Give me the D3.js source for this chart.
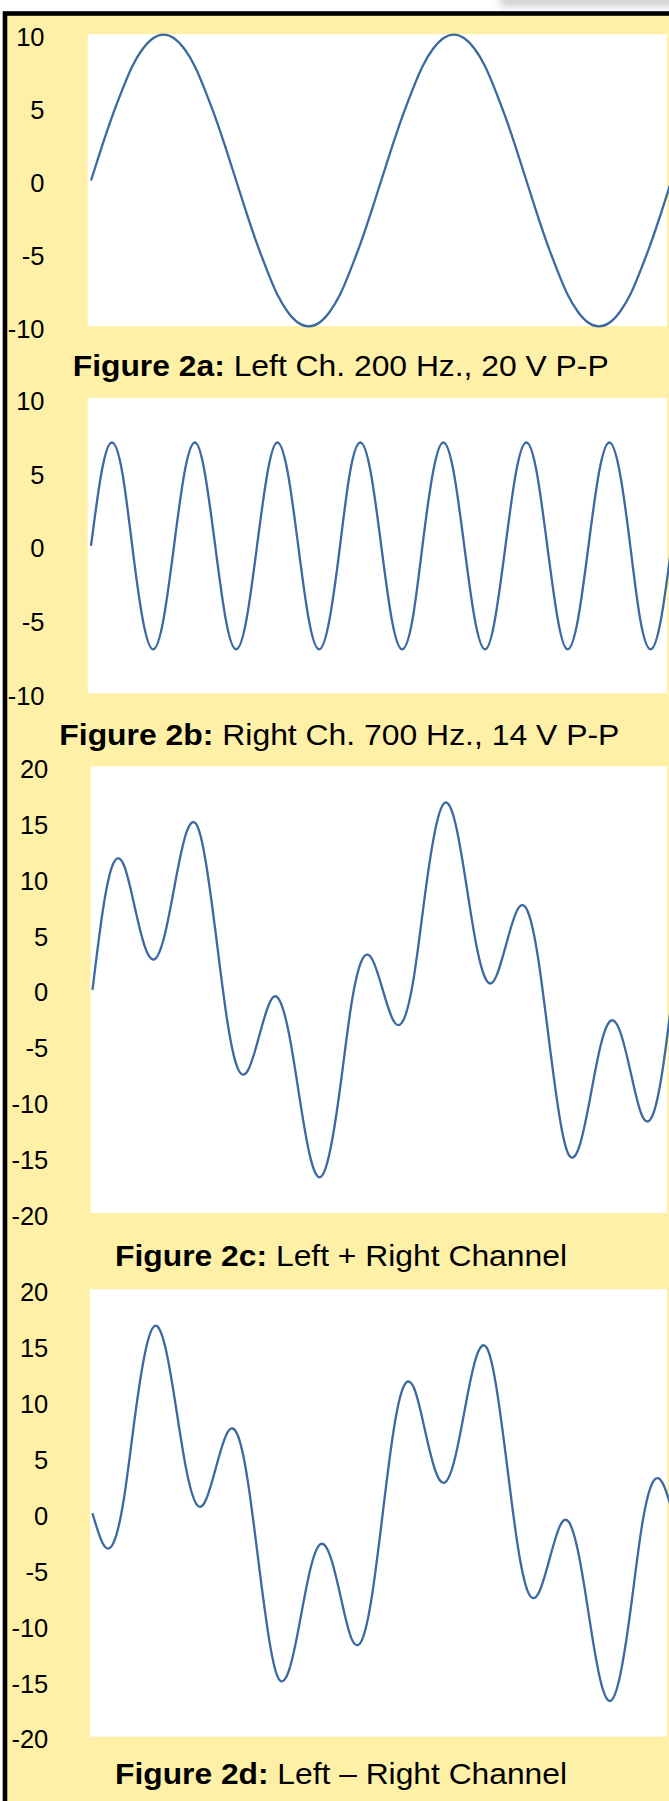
<!DOCTYPE html>
<html>
<head>
<meta charset="utf-8">
<script src="https://cdn.jsdelivr.net/npm/d3@7"></script>
<style>
  html, body { margin: 0; padding: 0; background: #ffffff; }
  svg { display: block; }
  text { font-family: "Liberation Sans", Arial, Helvetica, sans-serif; }
</style>
</head>
<body>
<svg id="chart" width="669" height="1801"></svg>
<script>
// ---- Data ----
const timeMs = [0, 0.18, 0.36, 0.54, 0.71, 0.89, 1.07, 1.25, 1.43, 1.61, 1.79, 1.96, 2.14, 2.32, 2.5,
  2.68, 2.86, 3.04, 3.21, 3.39, 3.57, 3.75, 3.93, 4.11, 4.29, 4.46, 4.64, 4.82, 5,
  5.18, 5.36, 5.54, 5.71, 5.89, 6.07, 6.25, 6.43, 6.61, 6.79, 6.96, 7.14, 7.32, 7.5,
  7.68, 7.86, 8.04, 8.21, 8.39, 8.57, 8.75, 8.93, 9.11, 9.29, 9.46, 9.64, 9.82, 10];

const leftCh = [0, 2.23, 4.34, 6.23, 7.82, 9.01, 9.75, 10, 9.75, 9.01, 7.82, 6.23, 4.34, 2.23, 0,
  -2.23, -4.34, -6.23, -7.82, -9.01, -9.75, -10, -9.75, -9.01, -7.82, -6.23, -4.34, -2.23, 0,
  2.23, 4.34, 6.23, 7.82, 9.01, 9.75, 10, 9.75, 9.01, 7.82, 6.23, 4.34, 2.23, 0,
  -2.23, -4.34, -6.23, -7.82, -9.01, -9.75, -10, -9.75, -9.01, -7.82, -6.23, -4.34, -2.23, 0];

const rightCh = [0, 4.95, 7, 4.95, 0, -4.95, -7, -4.95,
  0, 4.95, 7, 4.95, 0, -4.95, -7, -4.95,
  0, 4.95, 7, 4.95, 0, -4.95, -7, -4.95,
  0, 4.95, 7, 4.95, 0, -4.95, -7, -4.95,
  0, 4.95, 7, 4.95, 0, -4.95, -7, -4.95,
  0, 4.95, 7, 4.95, 0, -4.95, -7, -4.95,
  0, 4.95, 7, 4.95, 0, -4.95, -7, -4.95, 0];

const sumCh = [0, 7.18, 11.34, 11.18, 7.82, 4.06, 2.75, 5.05, 9.75, 13.96, 14.82, 11.18, 4.34, -2.72, -7,
  -7.18, -4.34, -1.28, -0.82, -4.06, -9.75, -14.95, -16.75, -13.96, -7.82, -1.28, 2.66, 2.72, 0,
  -2.72, -2.66, 1.28, 7.82, 13.96, 16.75, 14.95, 9.75, 4.06, 0.82, 1.28, 4.34, 7.18, 7,
  2.72, -4.34, -11.18, -14.82, -13.96, -9.75, -5.05, -2.75, -4.06, -7.82, -11.18, -11.34, -7.18, 0];

const diffCh = [0, -2.72, -2.66, 1.28, 7.82, 13.96, 16.75, 14.95, 9.75, 4.06, 0.82, 1.28, 4.34, 7.18, 7,
  2.72, -4.34, -11.18, -14.82, -13.96, -9.75, -5.05, -2.75, -4.06, -7.82, -11.18, -11.34, -7.18, 0,
  7.18, 11.34, 11.18, 7.82, 4.06, 2.75, 5.05, 9.75, 13.96, 14.82, 11.18, 4.34, -2.72, -7,
  -7.18, -4.34, -1.28, -0.82, -4.06, -9.75, -14.95, -16.75, -13.96, -7.82, -1.28, 2.66, 2.72, 0];

const ticksSmall = [10, 5, 0, -5, -10];
const ticksLarge = [20, 15, 10, 5, 0, -5, -10, -15, -20];

const captionBold = ["Figure 2a:", "Figure 2b:", "Figure 2c:", "Figure 2d:"];
const captionRest = [" Left Ch. 200 Hz., 20 V P-P", " Right Ch. 700 Hz., 14 V P-P",
  " Left + Right Channel", " Left \u2013 Right Channel"];

// ---- Layout ----
const W = 669, H = 1801;
const yellow = "#fff0a8";
const lineColor = "#3b69a0";

const panels = [
  { series: leftCh,  ticks: ticksSmall, dom: [-10, 10], top: 34.6, bottom: 326.4, plotLeft: 87.7, x0: 91,   labelX: 44.5,
    capX: 72.7, capW: 536, capBase: 376 },
  { series: rightCh, ticks: ticksSmall, dom: [-10, 10], top: 398.2, bottom: 693.6, plotLeft: 87.7, x0: 91,   labelX: 44.5,
    capX: 59.3, capW: 560, capBase: 745 },
  { series: sumCh,   ticks: ticksLarge, dom: [-20, 20], top: 766.5, bottom: 1213.3, plotLeft: 90.7, x0: 92.5, labelX: 48.3,
    capX: 115, capW: 452, capBase: 1266 },
  { series: diffCh,  ticks: ticksLarge, dom: [-20, 20], top: 1289.6, bottom: 1737, plotLeft: 90, x0: 92.5, labelX: 48.3,
    capX: 115, capW: 452, capBase: 1784 }
];

const svg = d3.select("#chart");
const defs = svg.append("defs");
defs.append("filter").attr("id", "shadowBlur")
  .attr("x", "-50%").attr("y", "-200%").attr("width", "200%").attr("height", "500%")
  .append("feGaussianBlur").attr("stdDeviation", 4);

// background + shadow at top right
svg.append("rect").attr("x", 0).attr("y", 0).attr("width", W).attr("height", H).attr("fill", "#ffffff");
svg.append("rect").attr("x", 500).attr("y", -4).attr("width", 220).attr("height", 10)
  .attr("fill", "#c9c9c9").attr("filter", "url(#shadowBlur)");

// black frame and yellow fill
svg.append("rect").attr("x", 2.7).attr("y", 11.2).attr("width", W).attr("height", H).attr("fill", "#000000");
svg.append("rect").attr("x", 7.3).attr("y", 15.8).attr("width", W).attr("height", H).attr("fill", yellow);

panels.forEach((p, i) => {
  const x = d3.scaleLinear().domain([0, 10]).range([p.x0, p.x0 + 580.5]);
  const y = d3.scaleLinear().domain(p.dom).range([p.bottom, p.top]);
  const g = svg.append("g");

  // white plot area
  g.append("rect")
    .attr("x", p.plotLeft).attr("y", y(p.dom[1]) - 0.3)
    .attr("width", 667 - p.plotLeft).attr("height", y(p.dom[0]) - y(p.dom[1]))
    .attr("fill", "#ffffff");

  // y axis labels
  const axis = d3.axisLeft(y).tickValues(p.ticks).tickSize(0).tickPadding(0)
    .tickFormat(d => (d < 0 ? "-" + Math.abs(d) : String(d)));
  const ax = g.append("g").attr("transform", `translate(${p.labelX},0)`).call(axis);
  ax.select(".domain").remove();
  ax.selectAll("text")
    .attr("font-family", "'Liberation Sans', Arial, Helvetica, sans-serif")
    .attr("font-size", 25.5)
    .attr("fill", "#000")
    .attr("dy", "0.43em");

  // the waveform
  const line = d3.line()
    .x((d, k) => x(timeMs[k]))
    .y(d => y(d))
    .curve(d3.curveNatural);
  g.append("path")
    .datum(p.series)
    .attr("d", line)
    .attr("fill", "none")
    .attr("stroke", lineColor)
    .attr("stroke-width", 2.3)
    .attr("stroke-linejoin", "round");

  // caption
  const t = g.append("text")
    .attr("x", p.capX).attr("y", p.capBase)
    .attr("font-size", 29)
    .attr("fill", "#000")
    .attr("textLength", p.capW)
    .attr("lengthAdjust", "spacingAndGlyphs");
  t.append("tspan").attr("font-weight", "bold").text(captionBold[i]);
  t.append("tspan").text(captionRest[i]);
});
</script>
</body>
</html>
